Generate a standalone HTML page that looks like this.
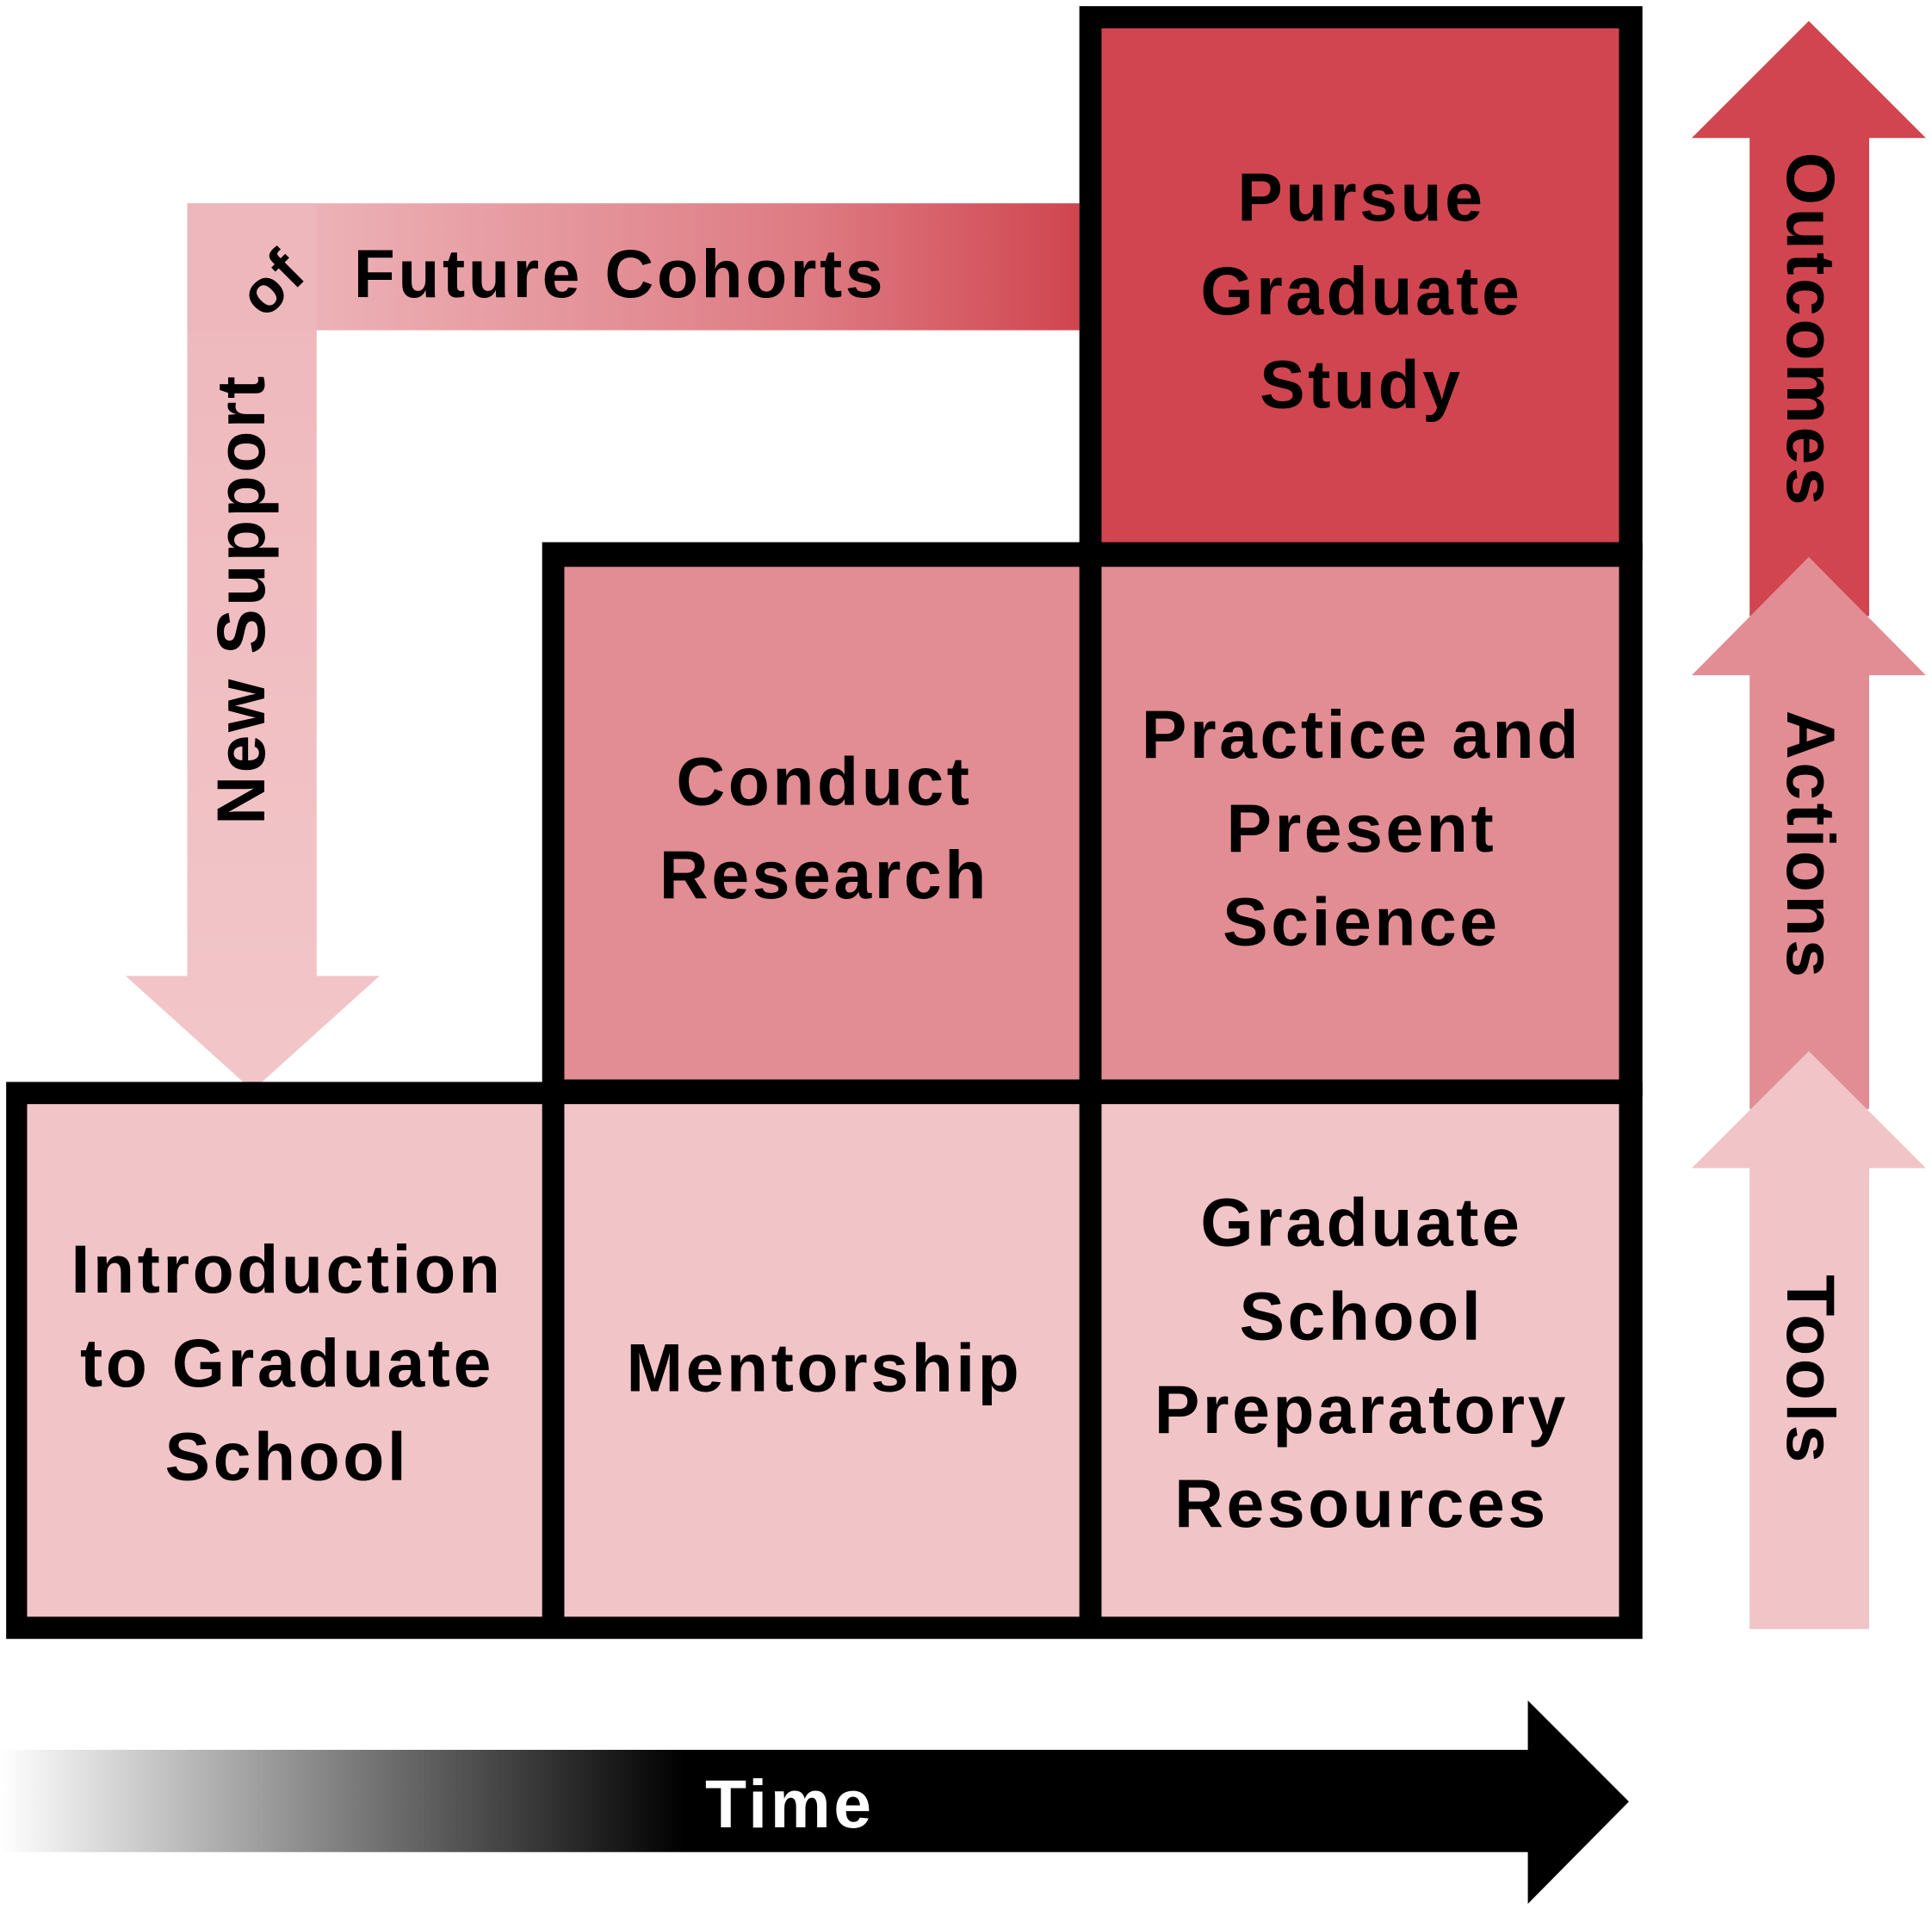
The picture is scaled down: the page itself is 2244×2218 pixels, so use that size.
<!DOCTYPE html>
<html><head><meta charset="utf-8"><style>
html,body{margin:0;padding:0;background:#fff;}
svg{display:block;}
text{font-family:"Liberation Sans",sans-serif;font-weight:bold;letter-spacing:2.5px;}
</style></head><body>
<svg width="2244" height="2218" viewBox="0 0 1568 1550" preserveAspectRatio="none" xmlns="http://www.w3.org/2000/svg">
<defs>
<linearGradient id="hg" x1="0" x2="1" y1="0" y2="0">
<stop offset="0" stop-color="#f0c0c4"/><stop offset="0.7" stop-color="#de7a82"/><stop offset="1" stop-color="#d0454f"/></linearGradient>
<linearGradient id="vg" x1="0" x2="0" y1="0" y2="1">
<stop offset="0" stop-color="#eeb7bb"/><stop offset="1" stop-color="#f2c6c9"/></linearGradient>
<linearGradient id="tg" x1="0" x2="1" y1="0" y2="0">
<stop offset="0" stop-color="#ffffff"/><stop offset="0.42" stop-color="#000"/><stop offset="1" stop-color="#000"/></linearGradient>
</defs>
<rect x="152" y="165" width="724" height="103" fill="url(#hg)"/>
<path d="M152 165 H257 V792 H308 L205 885 L102 792 H152 Z" fill="url(#vg)"/>
<rect x="152" y="165" width="105" height="103" fill="#eeb7bb"/>
<text x="200" y="486" font-size="55" text-anchor="middle" transform="rotate(-90 200 486)" dominant-baseline="middle">New Support</text>
<text x="224" y="232" font-size="50" text-anchor="middle" transform="rotate(-45 224 232)" dominant-baseline="middle">of</text>
<text x="287" y="241" font-size="55">Future Cohorts</text>
<rect x="5" y="878" width="1328" height="452" fill="#000"/>
<rect x="440" y="440" width="893" height="450" fill="#000"/>
<rect x="876" y="5" width="457" height="450" fill="#000"/>
<rect x="894" y="23" width="420" height="417" fill="#d0454f"/>
<rect x="458" y="460" width="418" height="416" fill="#e18d93"/>
<rect x="894" y="460" width="420" height="416" fill="#e18d93"/>
<rect x="22" y="896" width="418" height="416" fill="#f1c4c7"/>
<rect x="458" y="896" width="418" height="416" fill="#f1c4c7"/>
<rect x="894" y="896" width="420" height="416" fill="#f1c4c7"/>
<g font-size="55" text-anchor="middle">
<text x="1105" y="179">Pursue</text>
<text x="1105" y="255">Graduate</text>
<text x="1105" y="331">Study</text>
<text x="669" y="653">Conduct</text>
<text x="669" y="729">Research</text>
<text x="1105" y="615">Practice and</text>
<text x="1105" y="691">Present</text>
<text x="1105" y="767">Science</text>
<text x="233" y="1049">Introduction</text>
<text x="233" y="1125">to Graduate</text>
<text x="233" y="1201">School</text>
<text x="669" y="1129">Mentorship</text>
<text x="1105" y="1011">Graduate</text>
<text x="1105" y="1087">School</text>
<text x="1105" y="1163">Preparatory</text>
<text x="1105" y="1239">Resources</text>
</g>
<path d="M1420 500 V112 H1373 L1468 17 L1563 112 H1517 V500 Z" fill="#d0454f"/>
<path d="M1420 900 V548 H1373 L1468 452 L1563 548 H1517 V900 Z" fill="#e18d93"/>
<path d="M1420 1322 V948 H1373 L1468 853 L1563 948 H1517 V1322 Z" fill="#f1c4c7"/>
<g font-size="55" text-anchor="middle" dominant-baseline="middle">
<text x="1465" y="268" transform="rotate(90 1465 268)">Outcomes</text>
<text x="1465" y="686" transform="rotate(90 1465 686)">Actions</text>
<text x="1465" y="1112" transform="rotate(90 1465 1112)">Tools</text>
</g>
<path d="M0 1420 H1240 V1380 L1322 1462 L1240 1545 V1503 H0 Z" fill="url(#tg)"/>
<text x="641" y="1483" font-size="55" text-anchor="middle" fill="#fff">Time</text>
</svg>
</body></html>
